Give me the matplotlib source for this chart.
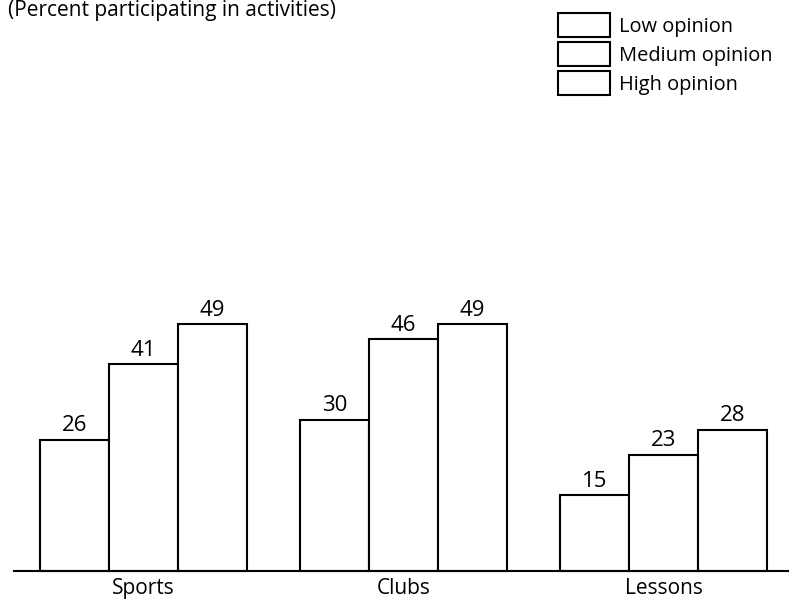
import numpy as np
import matplotlib
matplotlib.use("Agg")
import matplotlib.pyplot as plt

plt.rcParams['font.family'] = ['Open Sans', 'DejaVu Sans']

categories = ['Sports', 'Clubs', 'Lessons']
series_names = ['Low opinion', 'Medium opinion', 'High opinion']
low = [26, 30, 15]
medium = [41, 46, 23]
high = [49, 49, 28]
title = '(Percent participating in activities)'

W, H = 789, 600
fig = plt.figure(figsize=(W / 100, H / 100), dpi=100)
ax = fig.add_axes([0, 0, 1, 1])
ax.set_axis_off()

# pixel layout -> data scale
group_px = 260.0
bar_w = 69.0 / group_px
x = np.arange(len(categories))
ax.set_xlim(-143.5 / group_px, (W - 143.5) / group_px)
px_per_unit = 5.035
base_px = 570.7
ax.set_ylim(-(H - base_px) / px_per_unit, base_px / px_per_unit)

for j, vals in enumerate([low, medium, high]):
    b = ax.bar(x + (j - 1) * bar_w, vals, width=bar_w, color='white',
               edgecolor='black', linewidth=1.5, label=series_names[j])
    ax.bar_label(b, padding=2.5, fontsize=16)

ax.axhline(0, xmin=14 / W, xmax=1, color='black', linewidth=1.5)

for i, c in enumerate(categories):
    ax.text(x[i], -(594 - base_px) / px_per_unit, c, ha='center',
            va='baseline', fontsize=15)

fig.text(8 / W, 1 - 16 / H, title, ha='left', va='baseline', fontsize=15)

fs = 14.4
fig.legend(loc='upper left', bbox_to_anchor=(558 / W, 1 - 13 / H),
           frameon=False, fontsize=fs, borderpad=0, borderaxespad=0,
           handlelength=2.6, handleheight=1.47,
           handletextpad=0.45, labelspacing=0.25)

fig.savefig('out.png', dpi=100)
